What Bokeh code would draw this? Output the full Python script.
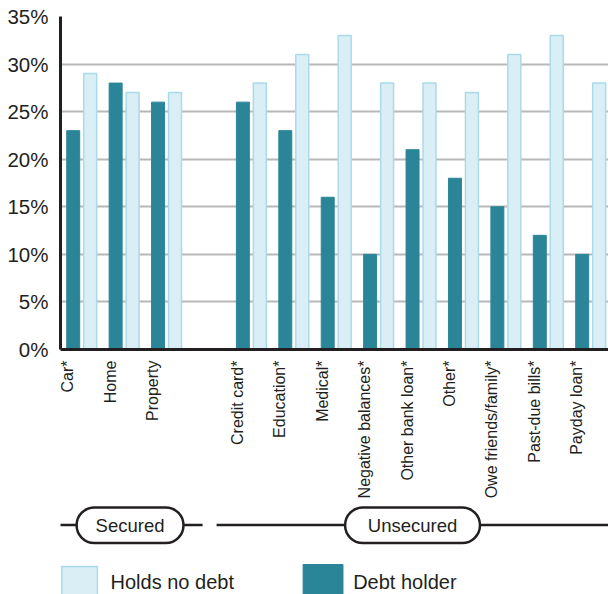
import numpy as np
from bokeh.plotting import figure
from bokeh.layouts import column
from bokeh.models import (Range1d, FixedTicker, CustomJSTickFormatter,
                          PrintfTickFormatter, ColumnDataSource)
from bokeh.core.properties import value
from bokeh.embed import file_html
from bokeh.resources import INLINE

# ---------------- data ----------------
categories = ["Car*", "Home", "Property", "Credit card*", "Education*", "Medical*",
              "Negative balances*", "Other bank loan*", "Other*",
              "Owe friends/family*", "Past-due bills*", "Payday loan*"]
groups = ["Secured"] * 3 + ["Unsecured"] * 9
debt_holder = [23, 28, 26, 26, 23, 16, 10, 21, 18, 15, 12, 10]
holds_no_debt = [29, 27, 27, 28, 31, 33, 28, 28, 27, 31, 33, 28]
y_ticks = [0, 5, 10, 15, 20, 25, 30, 35]
group_names = ["Secured", "Unsecured"]
legend_labels = ["Holds no debt", "Debt holder"]

# ---------------- style ----------------
DARK = "#2b8599"
LIGHT = "#d9eef5"
LIGHT_LINE = "#a9dbe8"
INK = "#231f20"
FONT = "Liberation Sans"

# slot positions: one empty slot between the two groups
slots = []
gap = 0
for i, g in enumerate(groups):
    if i > 0 and g != groups[i - 1]:
        gap += 1
    slots.append(i + gap)
slots = np.array(slots, dtype=float)

src = ColumnDataSource(dict(
    x_dark=slots - 0.2, x_light=slots + 0.2,
    debt=debt_holder, nodebt=holds_no_debt))

xr = Range1d(-0.5, 12.42)

p = figure(width=608, height=504, x_range=xr, y_range=Range1d(0, 35),
           output_backend="svg", toolbar_location=None,
           min_border_left=60, min_border_right=0, min_border_top=16, min_border_bottom=155)
p.outline_line_color = None
p.background_fill_color = "white"
p.border_fill_color = "white"

p.vbar(x="x_dark", top="debt", width=0.306, source=src,
       fill_color=DARK, line_color=DARK, line_width=1)
p.vbar(x="x_light", top="nodebt", width=0.306, source=src,
       fill_color=LIGHT, line_color=LIGHT_LINE, line_width=1.5)

# y axis
p.yaxis.ticker = FixedTicker(ticks=y_ticks)
p.yaxis.formatter = PrintfTickFormatter(format="%d%%")
p.yaxis.major_label_text_font = FONT
p.yaxis.major_label_text_font_size = "20.5px"
p.yaxis.major_label_text_color = INK
p.yaxis.major_label_standoff = 6
p.yaxis.axis_line_width = 3
p.yaxis.axis_line_color = INK
p.yaxis.major_tick_line_color = None
p.yaxis.minor_tick_line_color = None

p.ygrid.grid_line_color = "#b8b8b8"
p.ygrid.grid_line_width = 2
p.xgrid.visible = False

# x axis (category labels sit at the left of each pair)
tick_pos = list(slots - 0.33)
p.xaxis.ticker = FixedTicker(ticks=tick_pos)
p.xaxis.formatter = CustomJSTickFormatter(args=dict(pos=tick_pos, names=categories), code="""
let best = -1, bd = 1e9;
for (let i = 0; i < pos.length; i++) {
  const d = Math.abs(pos[i] - tick);
  if (d < bd) { bd = d; best = i; }
}
return bd < 0.05 ? names[best] : "";
""")
p.xaxis.major_label_orientation = np.pi / 2
p.xaxis.major_label_text_font = FONT
p.xaxis.major_label_text_font_size = "16px"
p.xaxis.major_label_text_color = INK
p.xaxis.major_label_standoff = 5
p.xaxis.axis_line_width = 3
p.xaxis.axis_line_color = INK
p.xaxis.major_tick_line_color = None
p.xaxis.minor_tick_line_color = None

# ---------------- group brackets (same x scale as the chart) ----------------
p2 = figure(width=608, height=46, x_range=xr, y_range=Range1d(0, 46),
            x_axis_type=None, y_axis_type=None, output_backend="svg",
            toolbar_location=None, min_border_left=60, min_border_right=0,
            min_border_top=0, min_border_bottom=0)
p2.outline_line_color = None
p2.grid.visible = False
p2.segment(x0=[-0.6, 3.18], x1=[2.85, 12.6], y0=[25.5, 25.5], y1=[25.5, 25.5],
           line_color=INK, line_width=2.5)
p2.quad(left=[-0.12, 6.21], right=[2.4, 9.39], bottom=[7.5, 7.5], top=[43, 43],
        fill_color="white", line_color=INK, line_width=2.5, border_radius=18)
p2.text(x=[1.14, 7.8], y=[25.5, 25.5], text=group_names,
        text_align="center", text_baseline="middle",
        text_font=value(FONT), text_font_size="18.5px", text_color=INK)

# ---------------- legend ----------------
p3 = figure(width=608, height=44, x_range=xr, y_range=Range1d(0, 44),
            x_axis_type=None, y_axis_type=None, output_backend="svg",
            toolbar_location=None, min_border_left=60, min_border_right=0,
            min_border_top=0, min_border_bottom=0)
p3.outline_line_color = None
p3.grid.visible = False
p3.quad(left=[-0.47], right=[0.37], bottom=[-5], top=[28],
        fill_color=LIGHT, line_color=LIGHT_LINE, line_width=1.5)
p3.quad(left=[5.22], right=[6.16], bottom=[-5], top=[30],
        fill_color=DARK, line_color=DARK, line_width=1)
p3.text(x=[0.68, 6.4], y=[12.5, 12.5], text=legend_labels,
        text_align="left", text_baseline="middle",
        text_font=value(FONT), text_font_size="20px", text_color=INK)

layout = column(p, p2, p3, spacing=0)
open("out.html", "w").write(file_html(layout, INLINE))
